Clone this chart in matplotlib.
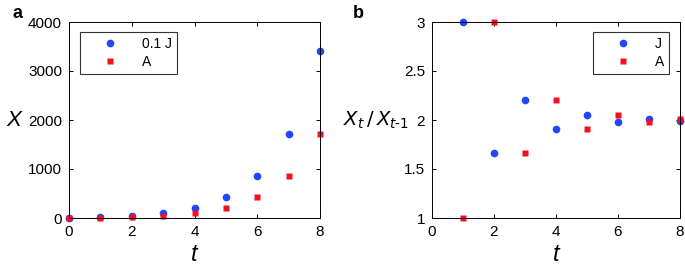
import numpy as np
import matplotlib.pyplot as plt

plt.rcParams['font.family'] = ['Liberation Sans', 'DejaVu Sans']

t_a = [0, 1, 2, 3, 4, 5, 6, 7, 8]
j_scaled = [10, 30, 50, 110, 210, 430, 850, 1710, 3410]   # 0.1 J
a_vals = [10, 10, 30, 50, 110, 210, 430, 850, 1710]

t_b = [1, 2, 3, 4, 5, 6, 7, 8]
j_ratio = [3.0, 1.667, 2.2, 1.909, 2.048, 1.977, 2.012, 1.994]
a_ratio = [1.0, 3.0, 1.667, 2.2, 1.909, 2.048, 1.977, 2.012]

blue = "#1f45ff"
red = "#f5101e"

fig = plt.figure(figsize=(6.85, 2.74), dpi=100)
W, H = 685, 274
ax1 = fig.add_axes([69 / W, 1 - 218 / H, (320 - 69) / W, (218 - 22) / H])
ax2 = fig.add_axes([432 / W, 1 - 218 / H, (680 - 432) / W, (218 - 22) / H])

for ax in (ax1, ax2):
    ax.tick_params(direction="in", top=True, right=True, length=3,
                   labelsize=11, width=0.7, pad=5)
    for s in ax.spines.values():
        s.set_linewidth(0.7)
    ax.set_xlim(0, 8)
    ax.set_xticks([0, 2, 4, 6, 8])
    ax.set_xlabel("t", fontsize=17, style="italic", labelpad=3)

leg_kw = dict(fontsize=10, fancybox=False, edgecolor="#333333", framealpha=1,
              handletextpad=0.5, borderpad=0.35, labelspacing=0.3, handlelength=3.6,
              borderaxespad=0)

# panel a
ax1.plot(t_a, j_scaled, "o", color=blue, ms=5.5, mec="none", label="0.1 J", clip_on=False)
ax1.plot(t_a, a_vals, "s", color=red, ms=5, mec="none", label="A", clip_on=False)
ax1.set_ylim(0, 4000)
ax1.set_yticks([0, 1000, 2000, 3000, 4000])
ax1.set_ylabel("X", fontsize=16, style="italic", rotation=0, labelpad=10, va="center")
leg = ax1.legend(loc="upper left", bbox_to_anchor=(0.044, 0.949), **leg_kw)
leg.get_frame().set_linewidth(0.8)

# panel b
ax2.plot(t_b, j_ratio, "o", color=blue, ms=5.5, mec="none", label="J", clip_on=False)
ax2.plot(t_b, a_ratio, "s", color=red, ms=5, mec="none", label="A", clip_on=False)
ax2.set_ylim(1, 3)
ax2.set_yticks([1, 1.5, 2, 2.5, 3])
ax2.set_yticklabels(["1", "1.5", "2", "2.5", "3"])
ax2.set_ylabel(r"$X_t\,/\,X_{t\text{-}1}$", fontsize=14, rotation=0, labelpad=20, va="center")
leg = ax2.legend(loc="upper right", bbox_to_anchor=(0.956, 0.949), **leg_kw)
leg.get_frame().set_linewidth(0.8)

fig.text(12 / W, 1 - 13 / H, "a", fontsize=13, fontweight="bold", va="center")
fig.text(353 / W, 1 - 13 / H, "b", fontsize=13, fontweight="bold", va="center")

fig.savefig("out.png", dpi=100)
